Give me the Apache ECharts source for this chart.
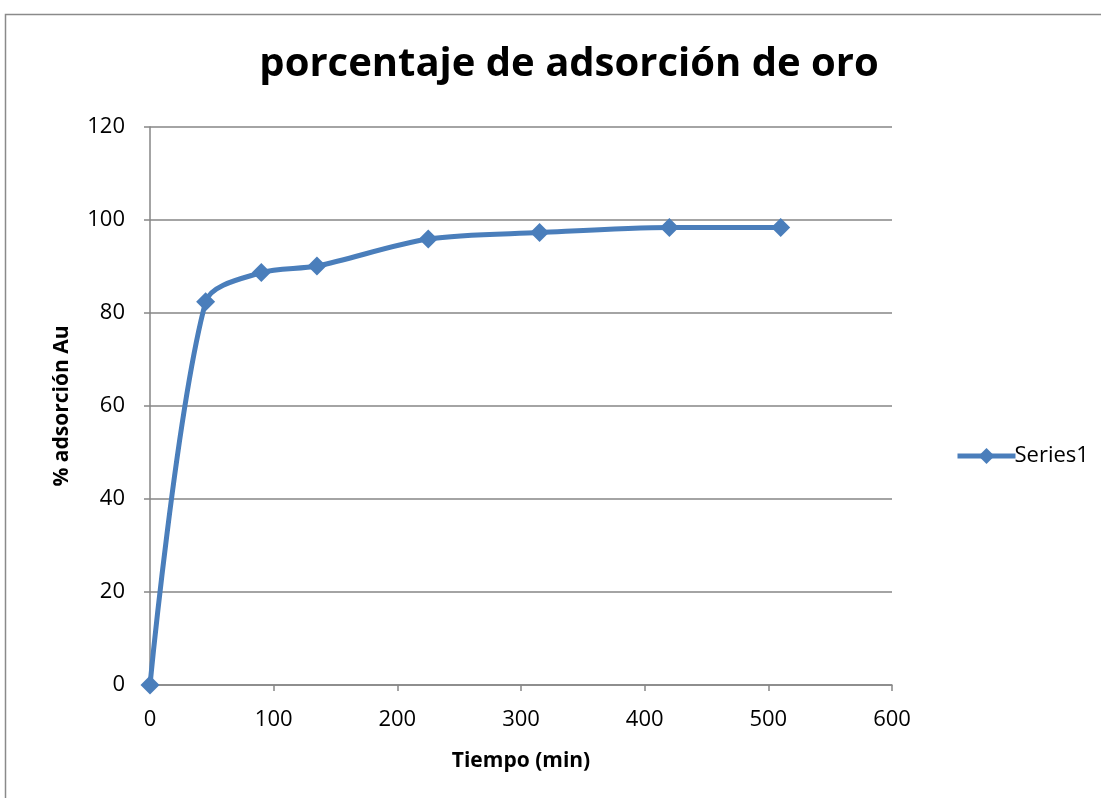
<!DOCTYPE html>
<html>
<head>
<meta charset="utf-8">
<script src="https://cdn.jsdelivr.net/npm/echarts@6/dist/echarts.min.js"></script>
<style>
  html, body { margin: 0; padding: 0; background: #fff; }
  #chart { width: 1101px; height: 798px; }
</style>
</head>
<body>
<div id="chart"></div>
<script>
// Tiempo (min) vs % adsorción de oro
const tiempo = [0, 45, 90, 135, 225, 315, 420, 510];
const adsorcion = [0, 82.4, 88.7, 90.1, 95.9, 97.3, 98.4, 98.4];
const seriesName = 'Series1';
const xTicks = { min: 0, max: 600, interval: 100 };
const yTicks = { min: 0, max: 120, interval: 20 };

const font = '"Open Sans", "Liberation Sans", sans-serif';
const axisGray = '#868686';
const lineBlue = '#4a7ebb';

const chart = echarts.init(document.getElementById('chart'), null, { renderer: 'canvas' });
chart.setOption({
  animation: false,
  backgroundColor: '#ffffff',
  graphic: [{
    type: 'rect',
    shape: { x: 5.5, y: 14.5, width: 1110, height: 800 },
    style: { fill: 'none', stroke: '#8a8a8a', lineWidth: 1.5 },
    silent: true
  }],
  title: {
    text: 'porcentaje de adsorción de oro',
    left: 564, top: 40, textAlign: 'center',
    textStyle: { fontFamily: font, fontWeight: 'bold', fontSize: 40, color: '#000' }
  },
  legend: {
    data: [seriesName],
    left: 950, top: 440,
    itemWidth: 58, itemHeight: 20, itemGap: 4,
    lineStyle: { width: 5 },
    textStyle: { fontFamily: font, fontSize: 22, color: '#000', padding: [0, 0, 0, -6] }
  },
  grid: { left: 150, right: 209, top: 127, bottom: 113 },
  xAxis: {
    type: 'value',
    min: xTicks.min, max: xTicks.max, interval: xTicks.interval,
    name: 'Tiempo (min)', nameLocation: 'middle', nameGap: 66,
    nameTextStyle: { fontFamily: font, fontWeight: 'bold', fontSize: 21, color: '#000' },
    axisLine: { show: true, lineStyle: { color: axisGray, width: 1.5 } },
    axisTick: { show: true, length: 6, lineStyle: { color: axisGray, width: 1.5 } },
    axisLabel: { fontFamily: font, fontSize: 22, color: '#000', margin: 24 },
    splitLine: { show: false }
  },
  yAxis: {
    type: 'value',
    min: yTicks.min, max: yTicks.max, interval: yTicks.interval,
    name: '% adsorción Au', nameLocation: 'middle', nameGap: 77, nameRotate: 90,
    nameTextStyle: { fontFamily: font, fontWeight: 'bold', fontSize: 21, color: '#000' },
    axisLine: { show: true, lineStyle: { color: axisGray, width: 1.5 } },
    axisTick: { show: true, length: 6, lineStyle: { color: axisGray, width: 1.5 } },
    axisLabel: { fontFamily: font, fontSize: 22, color: '#000', margin: 25 },
    splitLine: { show: true, lineStyle: { color: axisGray, width: 1.5 } }
  },
  series: [{
    name: seriesName,
    type: 'line',
    data: tiempo.map((t, i) => [t, adsorcion[i]]),
    smooth: 0.3,
    symbol: 'diamond',
    symbolSize: 19,
    lineStyle: { color: lineBlue, width: 5 },
    itemStyle: { color: lineBlue },
    z: 3
  }]
});
</script>
</body>
</html>
